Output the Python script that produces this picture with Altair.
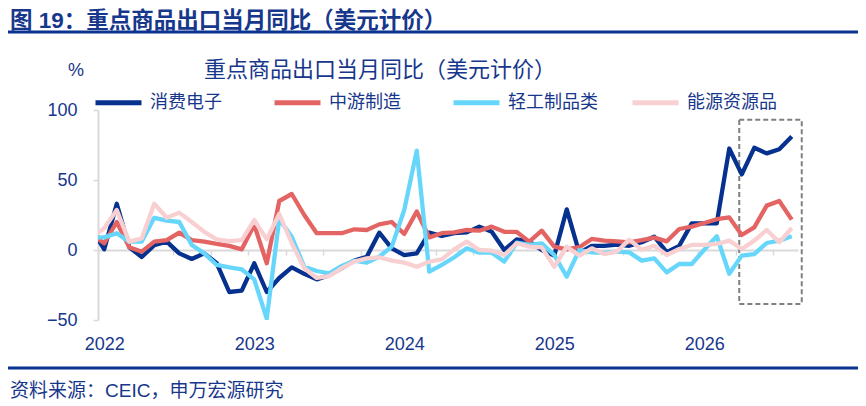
import altair as alt
import pandas as pd

FONT = "Liberation Sans, Noto Sans CJK SC, sans-serif"
NAVY = "#17378c"
RULE_BLUE = "#0a3291"

# months on the x axis; the first one only feeds the clipped line start at the left edge
MONTHS = [str(p) for p in pd.period_range("2021-12", "2026-08", freq="M")]
YEARS = ["2022", "2023", "2024", "2025", "2026"]
SERIES = ["消费电子", "中游制造", "轻工制品类", "能源资源品"]
COLORS = ["#06318f", "#e46464", "#66d6fb", "#f9d0d2"]

CONSUMER_ELEC = [
    15, 0.5, 33, 2, -5, 3.5, 6, -2.4, -6.4, -2.4, -9.5, -30, -29,
    -9.5, -30, -20, -12.4, -17, -21, -18, -13, -7.6, -4.8, 12.4, 1.2,
    -3.6, -2.4, 12.4, 10, 12, 12.6, 16.7, 13, 0, 7.6, 6, 0,
    -4, 29, -2, 3, 3, 3.8, 3, 5.5, 9.5, -1.5, 3, 19,
    19, 19, 72.5, 54, 73, 69, 72, 81,
]
MIDSTREAM = [
    11, 4.8, 20, 2, -1.2, 6, 7, 12.4, 7, 6, 4.3, 2.9, 0.5,
    18, -9.5, 35, 40, 25, 12, 12, 12, 14.8, 14.3, 18.3, 20,
    11.4, 27.5, 9, 12, 12.6, 14.3, 13.8, 16.7, 13, 12.9, 6, 13.8,
    2.4, 0.5, 2, 7.9, 6.7, 6.2, 5.5, 7, 8.8, 6.2, 15, 16.7,
    19.3, 22, 23.3, 10.7, 16.2, 31.7, 35, 21.7,
]
LIGHT_INDUSTRY = [
    9, 9, 12, 6, 6, 23, 21, 20, 3.6, -2.4, -10.7, -12.4, -13.8,
    -21, -49, 22, 9.5, -12, -15, -16.7, -11.4, -7.6, -9, -4.8, 2.4,
    28.6, 71, -15.5, -10.7, -5.2, 1.2, -1.9, -1.9, -8.3, 5.2, 3.6, 4.8,
    -3.6, -19, 0, -1.7, -2, -1.2, -1.7, -7.6, -6, -16, -10, -10,
    0.2, 9.8, -17, -4, -2.9, 5, 6.7, 9.8,
]
ENERGY = [
    9, 15.5, 28.6, 6, 8.3, 33, 23, 26.7, 20, 13, 7.6, 6.4, 7,
    21.4, 7.6, 25.7, 4.8, -13, -20, -18.6, -13, -8.3, -6, -5.2, -7.6,
    -9, -12, -8.3, -6.7, 0.5, 6, 0, -0.5, -3.6, 4.8, 2.4, 1.9,
    -12, 2.4, -4, 1.2, -2.9, -1.2, 7.4, 0.2, 3, -3.6, 0.7, 3.6,
    3.6, 4.3, 6.7, 0.7, 6.7, 14.3, 5.5, 15.7,
]

# dashed highlight box, in month-index / percent units
BOX_X = [50.8, 55.8]
BOX_Y = [-38.5, 93]

rows = []
for name, values in zip(SERIES, [CONSUMER_ELEC, MIDSTREAM, LIGHT_INDUSTRY, ENERGY]):
    for pos, (month, value) in enumerate(zip(MONTHS, values)):
        rows.append({"month": month, "idx": pos - 1, "series": name, "value": value})
frame = pd.DataFrame(rows)

tick_values = [-0.5 + 3 * k for k in range(19)] + [12 * k for k in range(len(YEARS))]

x_enc = alt.X(
    "idx:Q",
    scale=alt.Scale(domain=[-0.5, 55.5], nice=False, zero=False),
    axis=alt.Axis(
        values=tick_values,
        labelExpr=f"datum.value % 12 === 0 ? {YEARS}[datum.value / 12] : ''",
        tickOpacity={"condition": {"test": "datum.value % 12 === 0", "value": 0}, "value": 1},
        offset=-70,
        tickSize=5,
        tickColor="#d9d9d9",
        tickWidth=1.5,
        domainColor="#d9d9d9",
        domainWidth=2,
        labelPadding=80,
        labelFontSize=18,
        labelColor=NAVY,
        labelFont=FONT,
        labelOverlap=False,
        labelFlush=False,
        grid=False,
        title=None,
    ),
)
y_enc = alt.Y(
    "value:Q",
    scale=alt.Scale(domain=[-50, 100], nice=False),
    axis=alt.Axis(
        values=[-50, 0, 50, 100],
        tickSize=5,
        tickColor="#d9d9d9",
        tickWidth=1.5,
        domainColor="#d9d9d9",
        domainWidth=2,
        labelPadding=16,
        labelFontSize=18,
        labelColor=NAVY,
        labelFont=FONT,
        grid=False,
        title=None,
    ),
)

lines = (
    alt.Chart(frame)
    .mark_line(strokeWidth=4.3, strokeJoin="round", clip=True)
    .encode(
        x=x_enc,
        y=y_enc,
        color=alt.Color(
            "series:N",
            sort=SERIES,
            scale=alt.Scale(domain=SERIES, range=COLORS),
            legend=alt.Legend(
                orient="none",
                direction="horizontal",
                columns=4,
                gridAlign="all",
                legendX=-5,
                legendY=-33,
                title=None,
                symbolType="stroke",
                symbolSize=2116,
                symbolStrokeWidth=5,
                labelFontSize=18,
                labelFont=FONT,
                labelColor=NAVY,
                labelOffset=6,
                columnPadding=24,
                labelLimit=200,
            ),
        ),
        order=alt.Order("idx:Q"),
    )
)

box_frame = pd.DataFrame({"idx": [BOX_X[0]], "idx_end": [BOX_X[1]], "value": [BOX_Y[0]], "value_end": [BOX_Y[1]]})
box = (
    alt.Chart(box_frame)
    .mark_rect(fillOpacity=0, stroke="#7f7f7f", strokeWidth=2, strokeDash=[5, 3])
    .encode(x=x_enc, x2="idx_end:Q", y=y_enc, y2="value_end:Q")
)

one = alt.Data(values=[{}])


def label(text, x, y, size, align="left", weight="normal"):
    return (
        alt.Chart(one)
        .mark_text(align=align, baseline="middle", fontSize=size, fontWeight=weight, font=FONT, color=NAVY)
        .encode(x=alt.value(x), y=alt.value(y), text=alt.value(text))
    )


def hrule(y):
    return (
        alt.Chart(one)
        .mark_rule(color=RULE_BLUE, strokeWidth=3)
        .encode(x=alt.value(-90), x2=alt.value(762), y=alt.value(y))
    )


chart = (
    alt.layer(
        box,
        lines,
        label("图 19：重点商品出口当月同比（美元计价）", -88, -89.5, 22.5, weight="bold"),
        hrule(-78),
        label("重点商品出口当月同比（美元计价）", 282, -40, 22, align="center"),
        label("%", -22, -39, 18, align="center"),
        hrule(258),
        label("资料来源：CEIC，申万宏源研究", -88, 281, 19),
    )
    .properties(
        width=700,
        height=210,
        padding={"left": 90, "top": 102, "right": 60, "bottom": 88},
        autosize=alt.AutoSizeParams(type="none"),
        background="white",
    )
    .configure_view(stroke=None)
)

chart.save("out.html", embed_options={"renderer": "svg", "actions": False})
